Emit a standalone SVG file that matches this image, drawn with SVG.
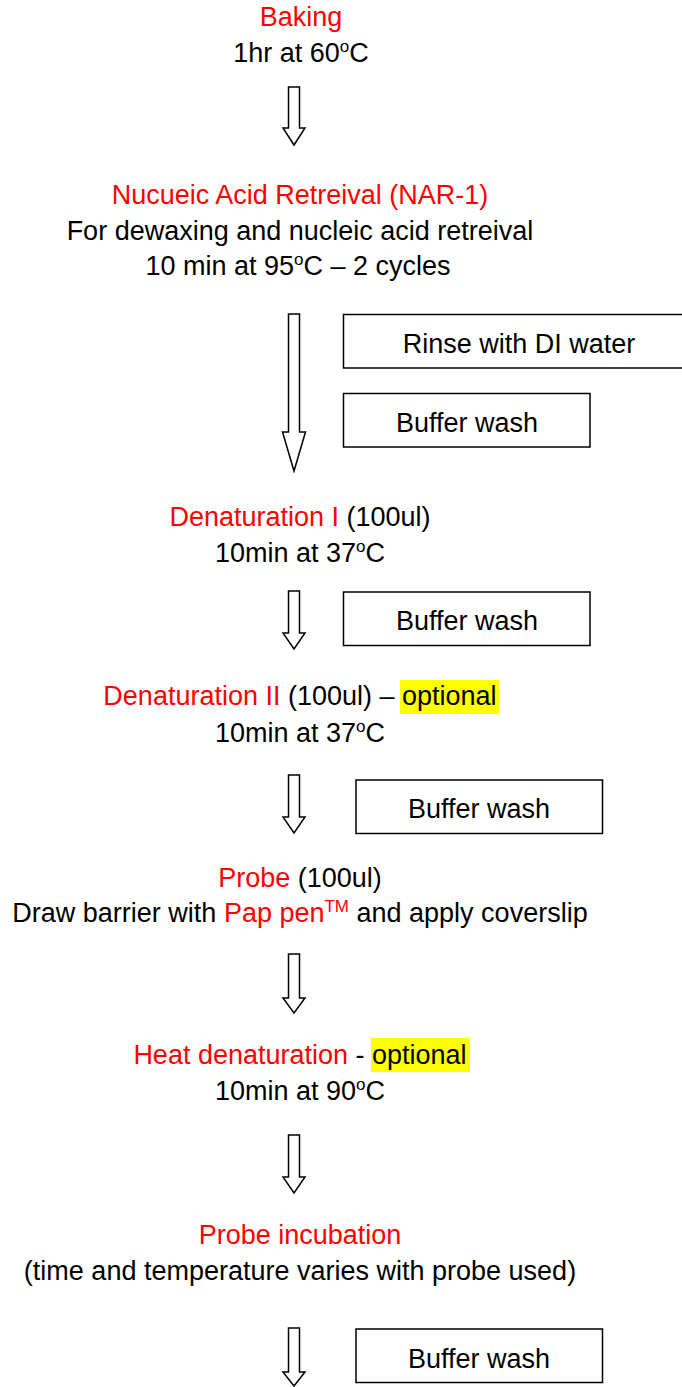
<svg xmlns="http://www.w3.org/2000/svg" width="682" height="1387" viewBox="0 0 682 1387">
<style>
  text { font-family: "Liberation Sans", Arial, sans-serif; font-size: 27px; fill: #000; text-anchor: middle; }
  .red { fill: #FF0000; }
  .sup { font-size: 17px; }
  .box { fill: #fff; stroke: #000; stroke-width: 1.5; }
  .arrow { fill: #fff; stroke: #000; stroke-width: 1.5; stroke-linejoin: miter; }
  .hl { fill: #FFFF00; }
</style>
<rect width="682" height="1387" fill="#fff"/>

<g id="connectors">
  <path class="arrow" d="M288.5,87 H299.5 V128 H305 L294,145 L283,128 H288.5 Z"/>
  <path class="arrow" d="M288.5,314 H299.5 V432 H305.5 L294,471 L282.5,432 H288.5 Z"/>
  <path class="arrow" d="M288.5,591 H299.5 V633 H305 L294,649 L283,633 H288.5 Z"/>
  <path class="arrow" d="M288.5,775 H299.5 V817 H305 L294,833 L283,817 H288.5 Z"/>
  <path class="arrow" d="M288.5,954 H299.5 V998 H305 L294,1013 L283,998 H288.5 Z"/>
  <path class="arrow" d="M288.5,1135 H299.5 V1177 H305 L294,1193 L283,1177 H288.5 Z"/>
  <path class="arrow" d="M288.5,1328 H299.5 V1372 H305 L294,1386 L283,1372 H288.5 Z"/>
</g>

<g id="baking">
  <text x="301" y="26"><tspan class="red">Baking</tspan></text>
  <text x="301" y="62">1hr at 60<tspan class="sup" dy="-10">o</tspan><tspan dy="10">C</tspan></text>
</g>

<g id="nar1">
  <text x="300" y="204"><tspan class="red">Nucueic Acid Retreival (NAR-1)</tspan></text>
  <text x="300" y="240">For dewaxing and nucleic acid retreival</text>
  <text x="298" y="275">10 min at 95<tspan class="sup" dy="-10">o</tspan><tspan dy="10">C – 2 cycles</tspan></text>
</g>

<g id="rinse">
  <rect class="box" x="343.5" y="314.5" width="345" height="53.5"/>
  <text x="519" y="353">Rinse with DI water</text>
</g>

<g id="wash1">
  <rect class="box" x="343.5" y="393.5" width="246.5" height="53.5"/>
  <text x="467" y="432">Buffer wash</text>
</g>

<g id="denat1">
  <text x="300" y="526"><tspan class="red">Denaturation I</tspan> (100ul)</text>
  <text x="300" y="562">10min at 37<tspan class="sup" dy="-10">o</tspan><tspan dy="10">C</tspan></text>
</g>

<g id="wash2">
  <rect class="box" x="343.5" y="592" width="246.5" height="53.5"/>
  <text x="467" y="630">Buffer wash</text>
</g>

<g id="denat2">
  <rect class="hl" x="400" y="680" width="99" height="34"/>
  <text x="300" y="705"><tspan class="red">Denaturation II</tspan> (100ul) – optional</text>
  <text x="300" y="742">10min at 37<tspan class="sup" dy="-10">o</tspan><tspan dy="10">C</tspan></text>
</g>

<g id="wash3">
  <rect class="box" x="356" y="780" width="246.5" height="53.5"/>
  <text x="479" y="818">Buffer wash</text>
</g>

<g id="probe">
  <text x="300" y="887"><tspan class="red">Probe</tspan> (100ul)</text>
  <text x="300" y="922">Draw barrier with <tspan class="red">Pap pen</tspan><tspan class="red sup" dy="-10">TM</tspan><tspan dy="10"> and apply coverslip</tspan></text>
</g>

<g id="heat">
  <rect class="hl" x="371" y="1038" width="99" height="34"/>
  <text x="300" y="1064"><tspan class="red">Heat denaturation</tspan> - optional</text>
  <text x="300" y="1100">10min at 90<tspan class="sup" dy="-10">o</tspan><tspan dy="10">C</tspan></text>
</g>

<g id="incubation">
  <text x="300" y="1244"><tspan class="red">Probe incubation</tspan></text>
  <text x="300" y="1280">(time and temperature varies with probe used)</text>
</g>

<g id="wash4">
  <rect class="box" x="356" y="1329" width="246.5" height="53.5"/>
  <text x="479" y="1368">Buffer wash</text>
</g>
</svg>
